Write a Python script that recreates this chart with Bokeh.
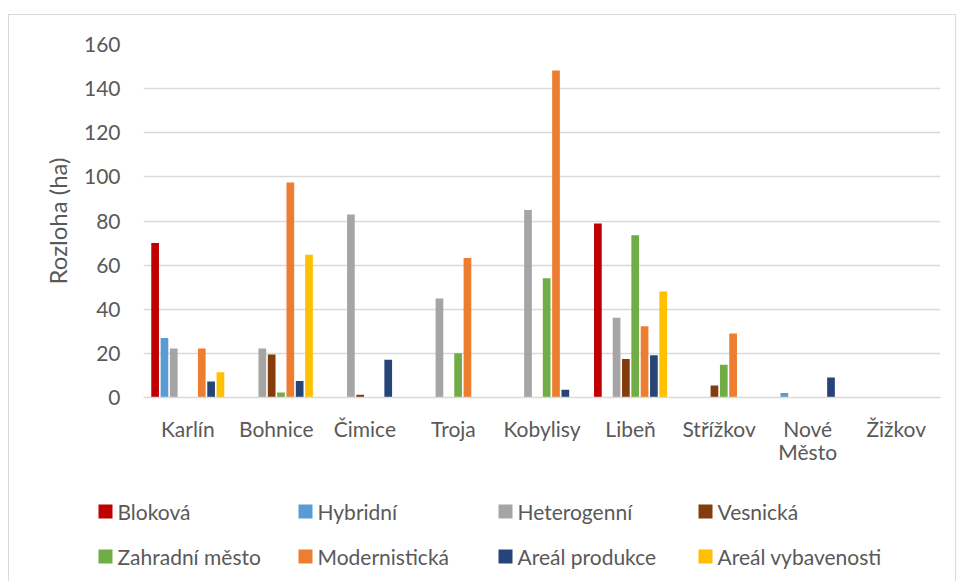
from bokeh.plotting import figure
from bokeh.models import (FactorRange, Range1d, ColumnDataSource, CategoricalAxis,
                          CustomJSTickFormatter)
from bokeh.transform import dodge
from bokeh.layouts import column
from bokeh.core.properties import value
from bokeh.embed import file_html
from bokeh.resources import INLINE

categories = ["Karlín", "Bohnice", "Čimice", "Troja", "Kobylisy", "Libeň", "Střížkov", "Nové Město", "Žižkov"]
series_names = ["Bloková", "Hybridní", "Heterogenní", "Vesnická", "Zahradní město",
                "Modernistická", "Areál produkce", "Areál vybavenosti"]
blokova = [70.0, 0, 0, 0, 0, 78.9, 0, 0, 0]
hybridni = [27.0, 0, 0, 0, 0, 0, 0, 2.0, 0]
heterogenni = [22.2, 22.2, 82.9, 44.9, 85.0, 36.1, 0, 0, 0]
vesnicka = [0, 19.5, 1.2, 0, 0, 17.5, 5.4, 0, 0]
zahradni_mesto = [0, 2.3, 0, 20.1, 54.0, 73.5, 14.8, 0, 0]
modernisticka = [22.2, 97.4, 0, 63.2, 148.2, 32.3, 29.0, 0, 0]
areal_produkce = [7.3, 7.5, 17.1, 0, 3.5, 19.2, 0, 9.1, 0]
areal_vybavenosti = [11.5, 64.7, 0, 0, 0, 48.1, 0, 0, 0]
y_ticks = [0, 20, 40, 60, 80, 100, 120, 140, 160]

series_values = [blokova, hybridni, heterogenni, vesnicka, zahradni_mesto,
                 modernisticka, areal_produkce, areal_vybavenosti]
colors = ["#C00000", "#5B9BD5", "#A5A5A5", "#843C0C", "#70AD47",
          "#ED7D31", "#264478", "#FFC000"]

FONT = "Lato"
TXT = "#595959"
GRID = "#d9d9d9"

W = 946
p = figure(x_range=FactorRange(*categories), y_range=Range1d(0, 160),
           width=W, height=455, output_backend="svg", toolbar_location=None,
           min_border_left=134, min_border_right=15, min_border_top=29, min_border_bottom=73)
p.outline_line_color = None
p.frame_align = False

src = ColumnDataSource(dict(cat=categories, **{f"s{i}": v for i, v in enumerate(series_values)}))
step = 0.1054
for i, c in enumerate(colors):
    p.vbar(x=dodge("cat", (i - 3.5) * step, range=p.x_range), top=f"s{i}", width=0.087,
           source=src, fill_color=c, line_color=None)

p.xgrid.grid_line_color = None
p.ygrid.grid_line_color = GRID
p.ygrid.grid_line_width = 1.3
p.yaxis.ticker = y_ticks
p.yaxis.axis_line_color = None
p.yaxis.major_tick_line_color = None
p.yaxis.minor_tick_line_color = None
p.yaxis.major_label_standoff = 17
p.yaxis.axis_label = "Rozloha (ha)"
p.yaxis.axis_label_text_font = FONT
p.yaxis.axis_label_text_font_size = "24px"
p.yaxis.axis_label_text_font_style = "normal"
p.yaxis.axis_label_text_color = TXT
p.yaxis.axis_label_standoff = 9
p.xaxis.axis_line_color = GRID
p.xaxis.axis_line_width = 1.3
p.xaxis.major_tick_line_color = None
p.xaxis.minor_tick_line_color = None
p.xaxis.major_tick_out = 0
p.xaxis.major_tick_in = 0
p.xaxis.major_label_standoff = 18
p.xaxis.formatter = CustomJSTickFormatter(
    code='return tick == "Nové Město" ? "Nové" : tick;')
for ax in (p.xaxis, p.yaxis):
    ax.major_label_text_font = FONT
    ax.major_label_text_font_size = "21px"
    ax.major_label_text_color = TXT

# second line of the wrapped category label
ax2 = CategoricalAxis(axis_line_color=None, major_tick_line_color=None, minor_tick_line_color=None,
                      major_tick_out=0, major_tick_in=0,
                      major_label_standoff=-5, major_label_text_font=FONT,
                      major_label_text_font_size="21px", major_label_text_color=TXT,
                      formatter=CustomJSTickFormatter(
                          code='return tick == "Nové Město" ? "Město" : " ";'))
p.add_layout(ax2, "below")

# legend panel (positions in pixels of the panel)
LH = 111
leg = figure(width=W, height=LH, x_range=Range1d(0, W), y_range=Range1d(LH, 0),
             output_backend="svg", toolbar_location=None, min_border=0,
             x_axis_location=None, y_axis_location=None)
leg.frame_align = False
leg.outline_line_color = None
leg.xgrid.visible = False
leg.ygrid.visible = False
col_left = [89, 289, 489, 689]
row_y = [41, 86]
lx, ly, tx = [], [], []
for k in range(len(series_names)):
    r, ccol = divmod(k, 4)
    lx.append(col_left[ccol] + 7)
    ly.append(row_y[r])
    tx.append(col_left[ccol] + 19)
lsrc = ColumnDataSource(dict(x=lx, y=ly, tx=tx, name=series_names, color=colors))
leg.rect(x="x", y="y", width=14, height=14, source=lsrc, fill_color="color", line_color=None)
leg.text(x="tx", y="y", text="name", source=lsrc, text_font=value(FONT), text_font_size="21px",
         text_color=TXT, text_baseline="middle", text_align="left")

layout = column(p, leg, styles={"margin-left": "8px", "margin-top": "14px",
                                "border-left": "1px solid #d9d9d9",
                                "border-top": "1px solid #d9d9d9",
                                "border-right": "1px solid #d9d9d9"})
open("out.html", "w").write(file_html(layout, INLINE))
